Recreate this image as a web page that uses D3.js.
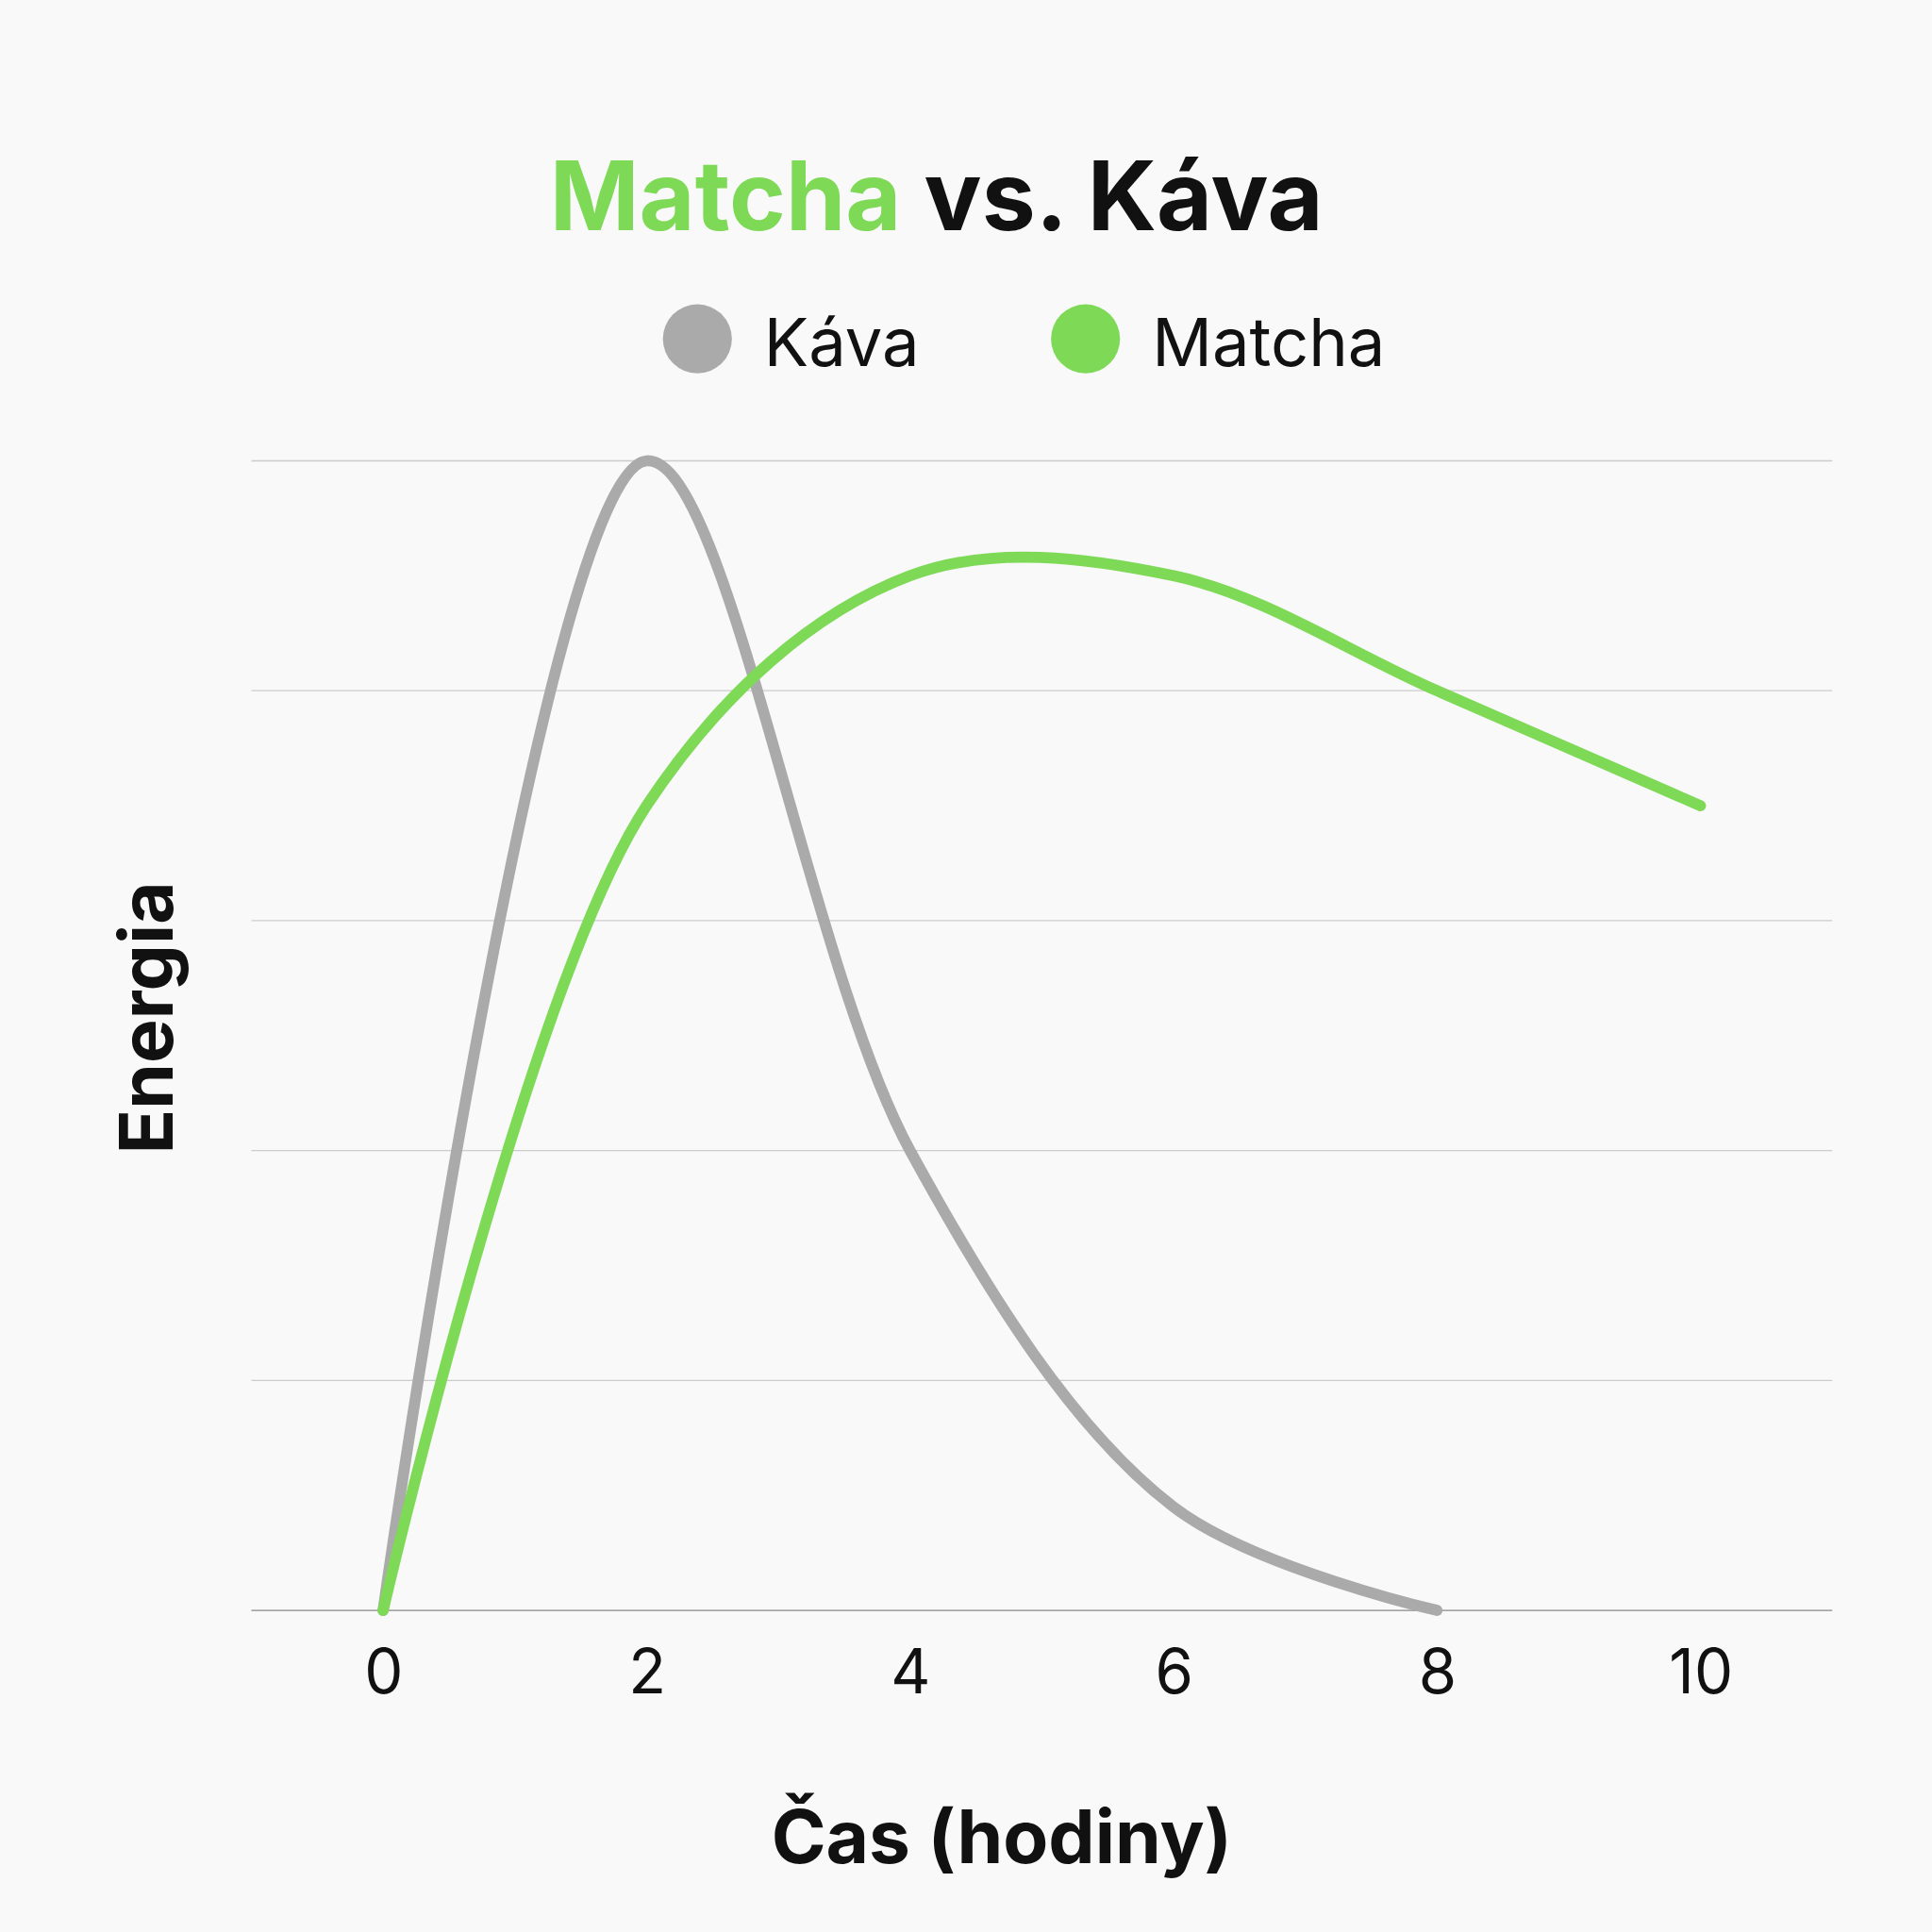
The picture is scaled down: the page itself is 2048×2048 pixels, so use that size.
<!DOCTYPE html>
<html><head><meta charset="utf-8">
<script src="https://cdn.jsdelivr.net/npm/d3@7"></script>
<style>body{margin:0;background:#f9f9f9}</style></head>
<body><script>
const hours = [0, 2, 4, 6, 8, 10];
const kavaX = [0, 2, 4, 6, 8];
const kavaValues = [0, 100, 40, 9, 0];
const matchaValues = [0, 70, 90, 90, 80, 70];
const xTicks = [0, 2, 4, 6, 8, 10];
const yTicks = [0, 20, 40, 60, 80, 100];
const green = "#7ed957", gray = "#aaaaaa";

const svg = d3.select("body").append("svg").attr("width",2048).attr("height",2048)
  .attr("viewBox","0 0 1568 1568").style("font-family","Inter, sans-serif");
svg.append("rect").attr("width",1568).attr("height",1568).attr("fill","#f9f9f9");
const x = d3.scaleLinear().domain([-1,11]).range([204,1487]);
const y = d3.scaleLinear().domain([0,100]).range([1307,374]);

svg.append("g").selectAll("line").data(yTicks).join("line")
  .attr("x1",204).attr("x2",1487).attr("y1",d=>y(d)).attr("y2",d=>y(d))
  .attr("stroke",d=>d===0?"#888":"#ccc").attr("stroke-width",1);

const xa = svg.append("g").attr("transform","translate(0,1307)")
  .call(d3.axisBottom(x).tickValues(xTicks).tickSize(0).tickPadding(30));
xa.select(".domain").remove();
xa.selectAll("text").attr("font-size",50).attr("fill","#111").attr("font-family","Inter, sans-serif").attr("dy","0.75em");

const line = d3.line().x(d=>x(d[0])).y(d=>y(d[1])).curve(d3.curveCatmullRom);
svg.append("path").attr("d",line(kavaX.map((h,i)=>[h,kavaValues[i]])))
  .attr("fill","none").attr("stroke",gray).attr("stroke-width",9).attr("stroke-linecap","round");
svg.append("path").attr("d",line(hours.map((h,i)=>[h,matchaValues[i]])))
  .attr("fill","none").attr("stroke",green).attr("stroke-width",9).attr("stroke-linecap","round");

const t = svg.append("text").attr("x",760).attr("y",187).attr("text-anchor","middle")
  .attr("font-size",78).attr("font-weight",700);
t.append("tspan").attr("fill",green).text("Matcha");
t.append("tspan").attr("fill","#111").text(" vs. Káva");

[[566,"Káva",gray],[881,"Matcha",green]].forEach(([cx,l,c])=>{
  svg.append("circle").attr("cx",cx).attr("cy",275).attr("r",28).attr("fill",c);
  svg.append("text").attr("x",cx+54).attr("y",297).attr("font-size",54).attr("fill","#111").text(l);
});

svg.append("text").attr("x",813).attr("y",1512).attr("text-anchor","middle")
  .attr("font-size",60).attr("font-weight",700).attr("fill","#111").text("Čas (hodiny)");
svg.append("text").attr("transform","translate(140,826) rotate(-90)").attr("text-anchor","middle")
  .attr("font-size",60).attr("font-weight",700).attr("fill","#111").text("Energia");
</script></body></html>
